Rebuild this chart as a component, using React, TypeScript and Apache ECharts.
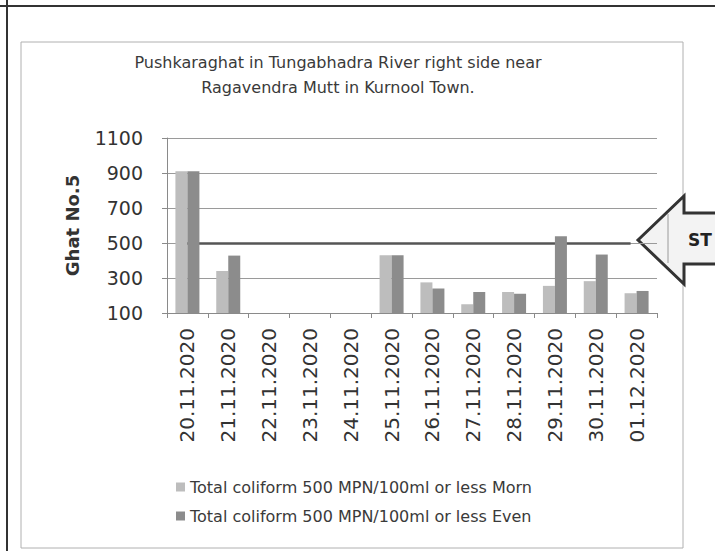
import React, { useEffect, useRef } from "react";
import * as echarts from "echarts";

const categories = [
  "20.11.2020", "21.11.2020", "22.11.2020", "23.11.2020", "24.11.2020", "25.11.2020",
  "26.11.2020", "27.11.2020", "28.11.2020", "29.11.2020", "30.11.2020", "01.12.2020",
];
const mornValues = [910, 340, null, null, null, 430, 275, 150, 220, 255, 282, 213];
const evenValues = [910, 428, null, null, null, 430, 240, 220, 210, 538, 434, 226];
const standardValue = 500;
const seriesNames = [
  "Total coliform 500 MPN/100ml or less Morn",
  "Total coliform 500 MPN/100ml or less Even",
];
const titleText = "Pushkaraghat in Tungabhadra River right side near\nRagavendra Mutt in Kurnool Town.";
const yAxisName = "Ghat No.5";
const standardLabel = "ST";

const FONT = "DejaVu Sans";

export default function App() {
  const ref = useRef<HTMLDivElement>(null);
  useEffect(() => {
    if (!ref.current) return;
    const chart = echarts.init(ref.current, undefined, { renderer: "svg" });
    chart.setOption({
      animation: false,
      backgroundColor: "#ffffff",
      title: {
        text: titleText,
        left: 333,
        top: 45,
        textAlign: "center",
        textStyle: { fontFamily: FONT, fontSize: 16, fontWeight: "normal", color: "#3a3a3a", lineHeight: 25 },
      },
      legend: {
        orient: "vertical",
        left: 171,
        top: 474,
        itemWidth: 9,
        itemHeight: 9,
        itemGap: 13,
        icon: "rect",
        selectedMode: false,
        textStyle: { fontFamily: FONT, fontSize: 16, color: "#3a3a3a" },
        data: seriesNames,
      },
      grid: { left: 167, right: 58, top: 138, bottom: 238, containLabel: false },
      xAxis: {
        type: "category",
        data: categories,
        boundaryGap: true,
        axisLine: { show: true, lineStyle: { color: "#8a8a8a", width: 1 } },
        axisTick: { show: true, alignWithLabel: false, length: 5, lineStyle: { color: "#8a8a8a" } },
        axisLabel: { rotate: 90, margin: 15, fontFamily: FONT, fontSize: 20, color: "#333" },
        splitLine: { show: false },
      },
      yAxis: {
        type: "value",
        min: 100,
        max: 1100,
        interval: 200,
        name: yAxisName,
        nameLocation: "middle",
        nameRotate: 90,
        nameGap: 86,
        nameTextStyle: { fontFamily: FONT, fontSize: 18, fontWeight: "bold", color: "#333" },
        axisLine: { show: true, lineStyle: { color: "#8a8a8a", width: 1 } },
        axisTick: { show: true, length: 5, lineStyle: { color: "#8a8a8a" } },
        axisLabel: { margin: 24, fontFamily: FONT, fontSize: 19, color: "#333", formatter: (v: number) => String(v) },
        splitLine: { show: true, lineStyle: { color: "#9a9a9a", width: 1 } },
      },
      series: [
        {
          name: seriesNames[0],
          type: "bar",
          data: mornValues,
          barWidth: 12,
          barGap: "0%",
          z: 2,
          itemStyle: { color: "#bdbdbd" },
          markLine: {
            z: 1,
            silent: true,
            symbol: "none",
            label: { show: false },
            lineStyle: { color: "#555555", width: 2.5, type: "solid" },
            emphasis: { disabled: true },
            data: [[{ coord: [0, standardValue] }, { coord: [categories.length - 1, standardValue] }]],
          },
        },
        {
          name: seriesNames[1],
          type: "bar",
          data: evenValues,
          barWidth: 12,
          barGap: "0%",
          z: 2,
          itemStyle: { color: "#8c8c8c" },
        },
      ],
      graphic: [
        { type: "line", shape: { x1: 0, y1: 6, x2: 715, y2: 6 }, style: { stroke: "#333", lineWidth: 2 }, silent: true },
        { type: "line", shape: { x1: 7, y1: 0, x2: 7, y2: 551 }, style: { stroke: "#333", lineWidth: 2 }, silent: true },
        { type: "rect", shape: { x: 21, y: 42, width: 662, height: 506 }, style: { fill: "none", stroke: "#b0b0b0", lineWidth: 1 }, silent: true },
        {
          type: "polygon",
          shape: { points: [[638, 240], [684, 196], [684, 213], [720, 213], [720, 264], [684, 264], [684, 284]] },
          style: { fill: "#f3f3f3", stroke: "#333", lineWidth: 3 },
          silent: true,
        },
        { type: "line", shape: { x1: 668, y1: 214, x2: 668, y2: 263 }, style: { stroke: "#9a9a9a", lineWidth: 1 }, silent: true },
        {
          type: "text",
          style: { text: standardLabel, x: 688, y: 240, fontFamily: FONT, fontSize: 17, fontWeight: "bold", fill: "#222", textAlign: "left", textVerticalAlign: "middle" },
          silent: true,
        },
      ],
    });
    return () => chart.dispose();
  }, []);
  return <div ref={ref} style={{ position: "absolute", left: 0, top: 0, width: 715, height: 551 }} />;
}
